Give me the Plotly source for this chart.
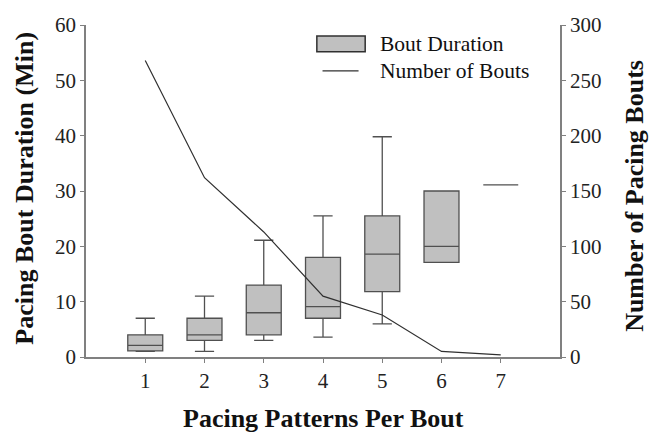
import plotly.graph_objects as go

patterns = [1, 2, 3, 4, 5, 6, 7]
lower_whisker = [1.0, 1.0, 3.0, 3.6, 6.0, 17.1, 31.1]
q1 = [1.1, 3.0, 4.0, 7.0, 11.8, 17.1, 31.1]
median = [2.1, 4.0, 8.0, 9.1, 18.6, 20.0, 31.1]
q3 = [4.0, 7.0, 13.0, 18.0, 25.5, 30.0, 31.1]
upper_whisker = [7.0, 11.0, 21.1, 25.5, 39.8, 30.0, 31.1]
num_bouts = [268, 162, 113, 55, 38, 5, 2]

FONT = "Liberation Serif, Times New Roman, serif"
fig = go.Figure()
fig.add_trace(go.Box(
    x=patterns, q1=q1, median=median, q3=q3,
    lowerfence=lower_whisker, upperfence=upper_whisker,
    width=0.59, whiskerwidth=0.55,
    fillcolor="#c0c0c0", line=dict(color="#505050", width=1.3),
    name="Bout Duration", showlegend=False, yaxis="y",
))
fig.add_trace(go.Scatter(
    x=patterns, y=num_bouts, mode="lines",
    line=dict(color="#303030", width=1.2),
    name="Number of Bouts", showlegend=False, yaxis="y2",
))

axis_common = dict(showline=True, linecolor="#808080", linewidth=1.5,
                   ticks="outside", ticklen=4, tickcolor="#808080",
                   showgrid=False, zeroline=False,
                   tickfont=dict(family=FONT, size=21, color="#222"))
fig.update_layout(
    width=664, height=435,
    margin=dict(l=86, r=104, t=25, b=78),
    plot_bgcolor="white", paper_bgcolor="white",
    font=dict(family=FONT),
    xaxis=dict(range=[0, 8], tickvals=patterns, **axis_common),
    yaxis=dict(range=[0, 60], tickvals=[0, 10, 20, 30, 40, 50, 60], **axis_common),
    yaxis2=dict(range=[0, 300], tickvals=[0, 50, 100, 150, 200, 250, 300],
                overlaying="y", side="right", **axis_common),
    showlegend=False,
)

title_font = dict(family=FONT, size=26, color="#111")
fig.add_annotation(text="<b>Pacing Bout Duration (Min)</b>", xref="paper", yref="paper",
                   x=-0.1287, y=0.51, xanchor="center", yanchor="middle",
                   textangle=-90, showarrow=False, font=title_font)
fig.add_annotation(text="<b>Number of Pacing Bouts</b>", xref="paper", yref="paper",
                   x=1.158, y=0.485, xanchor="center", yanchor="middle",
                   textangle=-90, showarrow=False, font=title_font)
fig.add_annotation(text="<b>Pacing Patterns Per Bout</b>", xref="paper", yref="paper",
                   x=0.501, y=-0.2325, xanchor="center", yanchor="bottom",
                   borderpad=0, showarrow=False, font=title_font)

# legend
fig.add_shape(type="rect", xref="paper", yref="paper", x0=0.487, x1=0.589,
              y0=0.9196, y1=0.967, fillcolor="#c0c0c0",
              line=dict(color="#303030", width=1.5))
fig.add_shape(type="line", xref="paper", yref="paper", x0=0.499, x1=0.575,
              y0=0.862, y1=0.862, line=dict(color="#303030", width=1.2))
leg_font = dict(family=FONT, size=21.5, color="#111")
fig.add_annotation(text="Bout Duration", xref="paper", yref="paper", x=0.616, y=0.943,
                   xanchor="left", yanchor="middle", showarrow=False, font=leg_font)
fig.add_annotation(text="Number of Bouts", xref="paper", yref="paper", x=0.616, y=0.862,
                   xanchor="left", yanchor="middle", showarrow=False, font=leg_font)

fig.write_html("out.html")
